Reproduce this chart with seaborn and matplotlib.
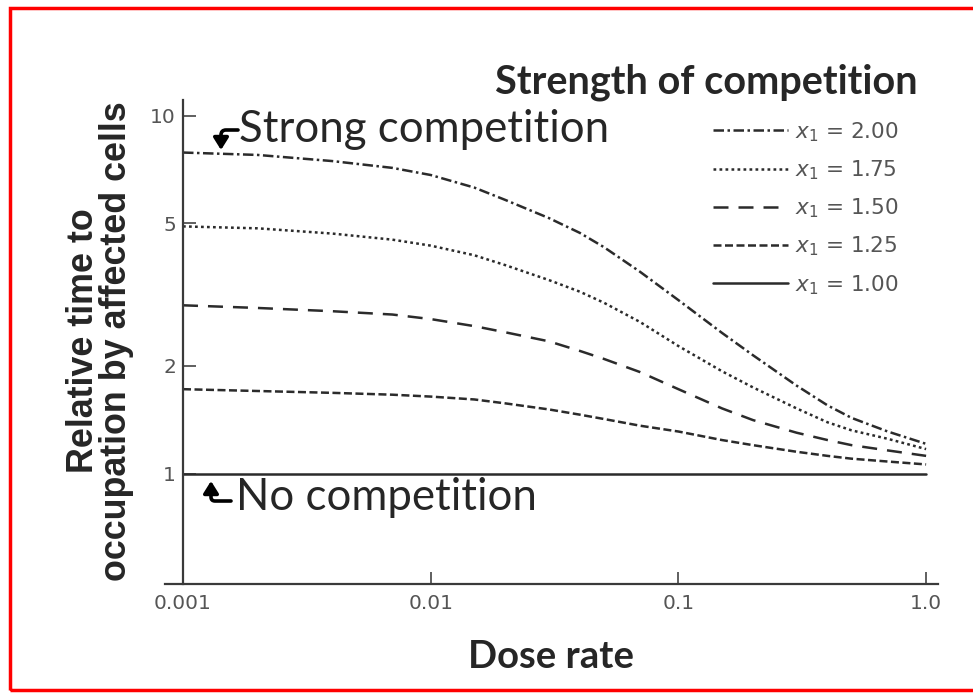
import numpy as np
import pandas as pd
import matplotlib
matplotlib.use("Agg")
import matplotlib.pyplot as plt
import seaborn as sns
from matplotlib.patches import Rectangle, FancyArrowPatch

# ---- data ----
dose = [0.001, 0.002, 0.004, 0.007, 0.01, 0.015, 0.02, 0.03, 0.04, 0.05,
        0.07, 0.1, 0.15, 0.2, 0.3, 0.4, 0.5, 0.7, 1.0]
x1_200 = [7.88, 7.76, 7.46, 7.14, 6.82, 6.29, 5.81, 5.17, 4.70, 4.29,
          3.66, 3.05, 2.47, 2.14, 1.76, 1.55, 1.43, 1.31, 1.21]
x1_175 = [4.90, 4.84, 4.68, 4.50, 4.33, 4.07, 3.82, 3.47, 3.22, 3.00,
          2.65, 2.27, 1.93, 1.74, 1.52, 1.39, 1.32, 1.25, 1.17]
x1_150 = [2.95, 2.90, 2.84, 2.78, 2.70, 2.58, 2.48, 2.34, 2.20, 2.09,
          1.92, 1.72, 1.52, 1.41, 1.30, 1.24, 1.20, 1.16, 1.12]
x1_125 = [1.72, 1.70, 1.68, 1.66, 1.64, 1.61, 1.57, 1.51, 1.46, 1.42,
          1.36, 1.31, 1.24, 1.20, 1.15, 1.12, 1.10, 1.08, 1.06]
x1_100 = [1.00] * len(dose)
series_labels = ["2.00", "1.75", "1.50", "1.25", "1.00"]
series_values = [x1_200, x1_175, x1_150, x1_125, x1_100]
x_ticks = [0.001, 0.01, 0.1, 1.0]
x_ticklabels = ["0.001", "0.01", "0.1", "1.0"]
y_ticks = [1, 2, 5, 10]
y_ticklabels = ["1", "2", "5", "10"]

sns.set_style("white")
plt.rcParams["font.family"] = ["DejaVu Sans"]
plt.rcParams["mathtext.fontset"] = "custom"
plt.rcParams["mathtext.it"] = "DejaVu Sans:italic"
plt.rcParams["mathtext.rm"] = "DejaVu Sans"

W, H = 973, 696
fig = plt.figure(figsize=(W / 100, H / 100), dpi=100)
fig.patch.set_facecolor("white")

def fx(px):
    return px / W

def fy(py):
    return 1 - py / H

# axes box in pixels
ax_l, ax_r, ax_t, ax_b = 165, 938, 100, 584
ax = fig.add_axes([fx(ax_l), fy(ax_b), fx(ax_r) - fx(ax_l), fy(ax_t) - fy(ax_b)])
ax.set_facecolor("white")

rows = []
for lab, vals in zip(series_labels, series_values):
    for d, v in zip(dose, vals):
        rows.append({"dose": d, "value": v, "x1": lab})
df = pd.DataFrame(rows)

line_color = "#2b2b2b"
styles = {
    "2.00": (0, (4.2, 1.4, 1.0, 1.4)),
    "1.75": (0, (1.1, 1.3)),
    "1.50": (0, (6.0, 4.0)),
    "1.25": (0, (3.2, 1.4)),
    "1.00": "-",
}
for lab in series_labels:
    sub = df[df["x1"] == lab]
    sns.lineplot(data=sub, x="dose", y="value", ax=ax, color=line_color,
                 linestyle=styles[lab], linewidth=1.8,
                 label=r"$x_1$ = " + lab, estimator=None, sort=True)

ax.set_xscale("log")
ax.set_yscale("log")
dec_x = 247.7
dec_y = 358.0
ax.set_xlim(10 ** (-3 - (183 - ax_l) / dec_x), 10 ** (-3 + (ax_r - 183) / dec_x))
ax.set_ylim(10 ** (-(ax_b - 473.5) / dec_y), 10 ** ((473.5 - ax_t) / dec_y))

ax.set_xticks(x_ticks)
ax.set_xticklabels(x_ticklabels)
ax.set_yticks(y_ticks)
ax.set_yticklabels(y_ticklabels)
ax.minorticks_off()
ax.tick_params(axis="both", which="major", direction="in", length=9, width=1.2,
               color="#444444", left=True, bottom=True, labelsize=14.5,
               labelcolor="#555555")
ax.tick_params(axis="x", pad=7)
ax.tick_params(axis="y", pad=5)

for side in ["top", "right"]:
    ax.spines[side].set_visible(False)
ax.spines["left"].set_position(("data", 0.001))
for side in ["left", "bottom"]:
    ax.spines[side].set_color("#3a3a3a")
    ax.spines[side].set_linewidth(1.6)
ax.set_xlabel("")
ax.set_ylabel("")

leg = ax.legend(loc="upper left", bbox_to_anchor=(fx(713), fy(120)),
                bbox_transform=fig.transFigure, frameon=False,
                prop={"family": "DejaVu Sans", "size": 15.5},
                handlelength=3.5, handletextpad=0.3,
                labelspacing=0.68, borderaxespad=0, borderpad=0)
for t in leg.get_texts():
    t.set_color("#555555")

# titles / labels
fig.text(fx(706), fy(82), "Strength of competition", ha="center", va="center",
         fontsize=28.5, fontweight="bold", family="Lato")
fig.text(fx(551), fy(657), "Dose rate", ha="center", va="center",
         fontsize=27.5, fontweight="bold", family="Lato")
fig.text(fx(100), fy(341), "Relative time to\noccupation by affected cells",
         ha="center", va="center", rotation=90, fontsize=25.8, fontweight="bold",
         family="Liberation Sans", linespacing=0.95, multialignment="center")

fig.text(fx(239), fy(129), "Strong competition", ha="left", va="center",
         fontsize=31.5, family="Lato")
fig.text(fx(236), fy(497), "No competition", ha="left", va="center",
         fontsize=31.5, family="Lato")

arrow_kw = dict(arrowstyle="-|>,head_length=0.8,head_width=0.5", color="black", lw=2.6,
                shrinkA=0, shrinkB=0, mutation_scale=9)
fig.add_artist(FancyArrowPatch(
    (fx(238), fy(130)), (fx(221), fy(150)), transform=fig.transFigure,
    connectionstyle="angle,angleA=0,angleB=90,rad=5", **arrow_kw))
fig.add_artist(FancyArrowPatch(
    (fx(231), fy(501)), (fx(211), fy(481)), transform=fig.transFigure,
    connectionstyle="angle,angleA=0,angleB=90,rad=4", **arrow_kw))

# red frame
fig.add_artist(Rectangle((fx(10), fy(690)), fx(1000) - fx(10), fy(8) - fy(690),
                         transform=fig.transFigure, fill=False, edgecolor="#ff0000",
                         linewidth=2.5, clip_on=False))

fig.savefig("out.png", dpi=100)
